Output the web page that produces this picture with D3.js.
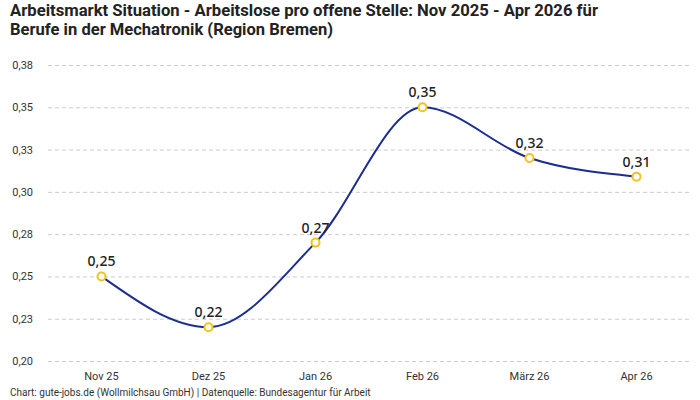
<!DOCTYPE html>
<meta charset="utf-8">
<script src="https://d3js.org/d3.v7.min.js"></script>
<style>
  body { margin: 0; background: #fff; }
  text { font-family: Roboto, "Noto Sans", sans-serif; }
</style>
<div id="my_dataviz"></div>
<script>

  // data
  var months = ["Nov 25", "Dez 25", "Jan 26", "Feb 26", "März 26", "Apr 26"];
  var values = [0.250, 0.220, 0.270, 0.350, 0.320, 0.309];
  var yTicks = [0.2, 0.225, 0.25, 0.275, 0.3, 0.325, 0.35, 0.375];

  var width = 700, height = 400;
  var margin = { top: 65, right: 10, bottom: 39, left: 48 };

  var svg = d3.select("#my_dataviz")
    .append("svg")
    .attr("width", width)
    .attr("height", height);

  var fmt = function (v) { return d3.format(".2f")(v).replace(".", ","); };

  var xScale = d3.scaleBand()
    .domain(months)
    .range([margin.left, width - margin.right]);
  var yScale = d3.scaleLinear()
    .domain([0.2, 0.375])
    .range([height - margin.bottom, margin.top]);

  // title (condensed look via textLength)
  var title = svg.append("text")
    .attr("font-weight", "bold")
    .attr("font-size", 17)
    .attr("fill", "#222");
  title.append("tspan").attr("x", 10).attr("y", 16)
    .attr("textLength", 588).attr("lengthAdjust", "spacingAndGlyphs")
    .text("Arbeitsmarkt Situation - Arbeitslose pro offene Stelle: Nov 2025 - Apr 2026 für");
  title.append("tspan").attr("x", 10).attr("y", 35)
    .attr("textLength", 323).attr("lengthAdjust", "spacingAndGlyphs")
    .text("Berufe in der Mechatronik (Region Bremen)");

  // grid + y labels
  svg.append("g")
    .selectAll("line")
    .data(yTicks)
    .enter().append("line")
    .attr("x1", margin.left)
    .attr("x2", width - margin.right)
    .attr("y1", function (d) { return yScale(d) + 0.5; })
    .attr("y2", function (d) { return yScale(d) + 0.5; })
    .attr("stroke", "#ccc")
    .attr("stroke-dasharray", "4,3");

  svg.append("g")
    .selectAll("text")
    .data(yTicks)
    .enter().append("text")
    .attr("x", 33)
    .attr("y", function (d) { return yScale(d) + 4; })
    .attr("text-anchor", "end")
    .attr("font-size", 11)
    .attr("fill", "#333")
    .text(fmt);

  // x labels
  svg.append("g")
    .selectAll("text")
    .data(months)
    .enter().append("text")
    .attr("x", function (d) { return xScale(d) + xScale.bandwidth() / 2; })
    .attr("y", 380)
    .attr("text-anchor", "middle")
    .attr("font-size", 11)
    .attr("fill", "#333")
    .text(function (d) { return d; });

  var pts = months.map(function (m, i) { return { m: m, v: values[i] }; });

  // line
  svg.append("path")
    .datum(pts)
    .attr("fill", "none")
    .attr("stroke", "#1b2d8f")
    .attr("stroke-width", 2)
    .attr("d", d3.line()
      .curve(d3.curveMonotoneX)
      .x(function (d) { return xScale(d.m) + xScale.bandwidth() / 2; })
      .y(function (d) { return yScale(d.v); }));

  // points
  svg.append("g")
    .selectAll("circle")
    .data(pts)
    .enter().append("circle")
    .attr("cx", function (d) { return xScale(d.m) + xScale.bandwidth() / 2; })
    .attr("cy", function (d) { return yScale(d.v); })
    .attr("r", 4)
    .attr("fill", "#fff")
    .attr("stroke", "#f5c21b")
    .attr("stroke-width", 2);

  // value labels
  svg.append("g")
    .selectAll("text")
    .data(pts)
    .enter().append("text")
    .attr("x", function (d) { return xScale(d.m) + xScale.bandwidth() / 2; })
    .attr("y", function (d) { return yScale(d.v) - 10; })
    .attr("text-anchor", "middle")
    .style("font-family", "'Noto Sans', sans-serif")
    .attr("font-size", 14)
    .attr("font-weight", 500)
    .attr("fill", "#222")
    .text(function (d) { return fmt(d.v); });

  // footer
  svg.append("text")
    .attr("x", 10)
    .attr("y", 396)
    .attr("font-size", 10)
    .attr("fill", "#333")
    .text("Chart: gute-jobs.de (Wollmilchsau GmbH) | Datenquelle: Bundesagentur für Arbeit");

</script>
